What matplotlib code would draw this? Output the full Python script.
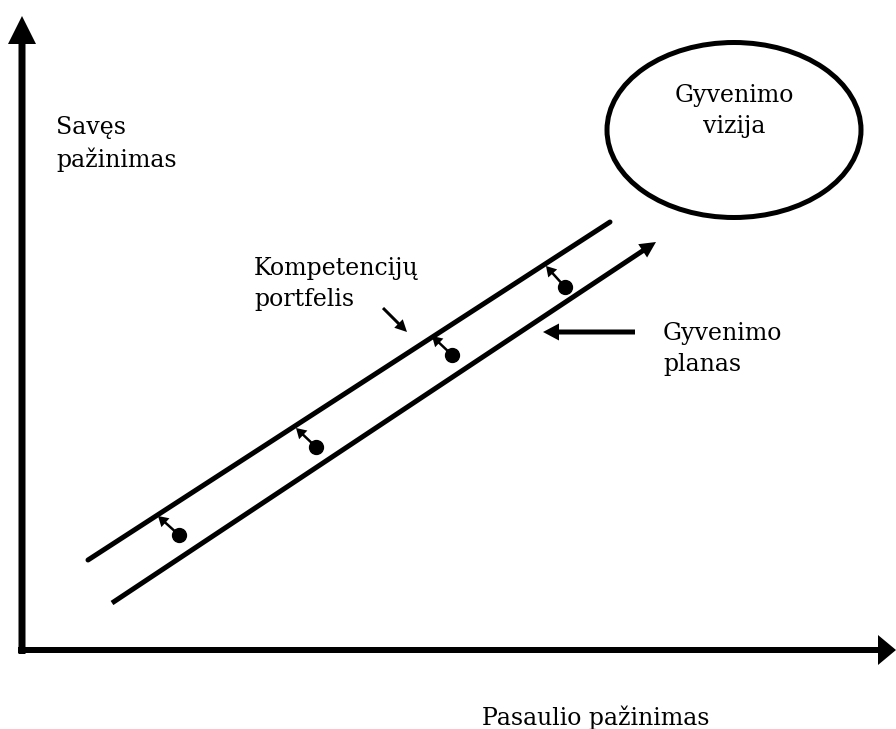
import matplotlib
matplotlib.use("Agg")
import matplotlib.pyplot as plt
from matplotlib.patches import Ellipse

# ---- diagram data (pixel space of the 896x729 canvas, y downwards) ----
upper_line_x = [88, 610]
upper_line_y = [560, 222]
lower_line_x = [112, 656]
lower_line_y = [603, 242]
dot_x = [179, 316, 452, 565]
dot_y = [535, 447, 355, 287]
dot_arrow_tip_x = [158, 296, 432, 546]
dot_arrow_tip_y = [516, 428, 336, 266]
label_texts = ["Savęs\npažinimas", "Kompetencijų\nportfelis", "Gyvenimo\nplanas",
               "Gyvenimo\nvizija", "Pasaulio pažinimas"]

plt.rcParams['font.family'] = ['DejaVu Serif']

fig = plt.figure(figsize=(8.96, 7.29), dpi=100)
ax = fig.add_axes([0, 0, 1, 1])
ax.set_xlim(0, 896)
ax.set_ylim(729, 0)
ax.axis('off')

k = 'black'
# axes arrows
ax.arrow(22, 654, 0, -638, width=7, head_width=28, head_length=28,
         length_includes_head=True, fc=k, ec='none')
ax.arrow(18, 650, 878, 0, width=6, head_width=30, head_length=18,
         length_includes_head=True, fc=k, ec='none')

# upper line
ax.plot(upper_line_x, upper_line_y, color=k, lw=3.6, solid_capstyle='round')
# lower line with arrow
ax.arrow(lower_line_x[0], lower_line_y[0],
         lower_line_x[1] - lower_line_x[0], lower_line_y[1] - lower_line_y[0],
         width=5, head_width=16, head_length=16, length_includes_head=True,
         fc=k, ec='none')

# dots and small arrows
ax.plot(dot_x, dot_y, 'o', color=k, markersize=10, zorder=3)
for x0, y0, x1, y1 in zip(dot_x, dot_y, dot_arrow_tip_x, dot_arrow_tip_y):
    ax.arrow(x0, y0, x1 - x0, y1 - y0, width=2.5, head_width=12, head_length=10,
             length_includes_head=True, fc=k, ec='none')

# ellipse
ax.add_patch(Ellipse((734, 130), 254, 175, fill=False, ec=k, lw=3.6))

# label arrows
ax.arrow(383, 308, 24, 24, width=3, head_width=12, head_length=12,
         length_includes_head=True, fc=k, ec='none')
ax.arrow(635, 332, -92, 0, width=5, head_width=17, head_length=16,
         length_includes_head=True, fc=k, ec='none')

fs = 17
ax.text(56, 144, label_texts[0], fontsize=fs, ha='left', va='center', linespacing=1.45)
ax.text(254, 284, label_texts[1], fontsize=fs, ha='left', va='center', linespacing=1.4)
ax.text(663, 349, label_texts[2], fontsize=fs, ha='left', va='center', linespacing=1.45)
ax.text(734, 111, label_texts[3], fontsize=fs, ha='center', va='center', linespacing=1.45)
ax.text(596, 718, label_texts[4], fontsize=fs, ha='center', va='center')

fig.savefig('out.png', dpi=100)
